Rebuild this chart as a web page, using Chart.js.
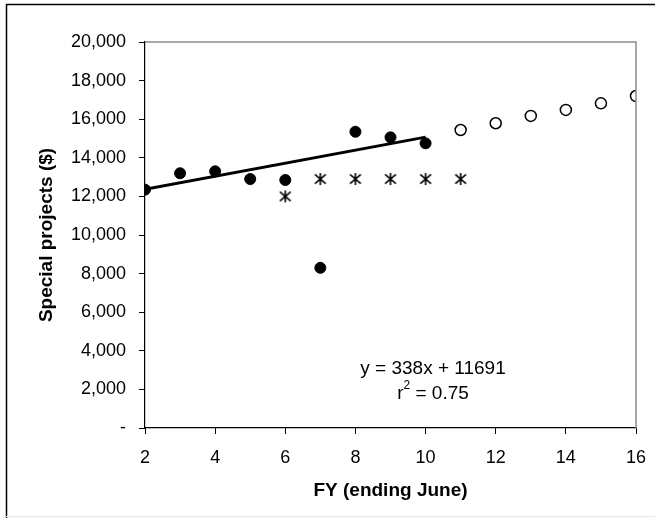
<!DOCTYPE html>
<html>
<head>
<meta charset="utf-8">
<script src="https://cdn.jsdelivr.net/npm/chart.js@4.4.1/dist/chart.umd.min.js"></script>
<style>
html,body{margin:0;padding:0;background:#fff;}
#wrap{position:relative;width:655px;height:518px;}
</style>
</head>
<body>
<div id="wrap"><canvas id="c" width="655" height="518"></canvas></div>
<script>
// ---- data ----
const actualYears = [2, 3, 4, 5, 6, 7, 8, 9, 10];
const actualValues = [12350, 13200, 13300, 12900, 12850, 8300, 15350, 15060, 14750];
const forecastYears = [11, 12, 13, 14, 15, 16];
const forecastValues = [15440, 15790, 16170, 16480, 16820, 17200];
const budgetYears = [6, 7, 8, 9, 10, 11];
const budgetValues = [12000, 12900, 12900, 12900, 12900, 12900];
const trendSlope = 338;
const trendIntercept = 11691;
const trendRange = [2, 10];
const trendLabel = ['y = 338x + 11691', 'r', '2', ' = 0.75'];
const xTitle = 'FY (ending June)';
const yTitle = 'Special projects ($)';

const FONT = "'Liberation Sans', Arial, sans-serif";

// asterisk marker (X plus vertical stroke)
function makeAsterisk(size) {
  const c = document.createElement('canvas');
  c.width = size + 2; c.height = size + 2;
  const g = c.getContext('2d');
  g.strokeStyle = '#000'; g.lineWidth = 1.6;
  const m = (size + 2) / 2, r = size / 2;
  g.beginPath();
  g.moveTo(m, m - r); g.lineTo(m, m + r);
  g.moveTo(m - r * 0.9, m - r * 0.78); g.lineTo(m + r * 0.9, m + r * 0.78);
  g.moveTo(m - r * 0.9, m + r * 0.78); g.lineTo(m + r * 0.9, m - r * 0.78);
  g.stroke();
  return c;
}

const toPts = (xs, ys) => xs.map((x, i) => ({x: x, y: ys[i]}));
const trendPts = trendRange.map(x => ({x: x, y: trendSlope * x + trendIntercept}));

const framePlugin = {
  id: 'frame',
  beforeDraw(chart) {
    const g = chart.ctx;
    g.save();
    g.fillStyle = '#fff';
    g.fillRect(0, 0, chart.width, chart.height);
    g.strokeStyle = '#000'; g.lineWidth = 1.5;
    g.beginPath();
    g.moveTo(6.5, 520); g.lineTo(6.5, 4.5); g.lineTo(660, 4.5);
    g.stroke();
    g.strokeStyle = '#e6e6e6'; g.lineWidth = 1;
    g.beginPath(); g.moveTo(6, 516.5); g.lineTo(660, 516.5); g.stroke();
    g.restore();
  },
  afterDatasetsDraw(chart) {
    const g = chart.ctx, a = chart.chartArea;
    g.save();
    g.strokeStyle = '#8c8c8c'; g.lineWidth = 1.5;
    g.beginPath();
    g.moveTo(a.left, a.top); g.lineTo(a.right, a.top); g.lineTo(a.right, a.bottom);
    g.stroke();
    // trendline equation
    g.fillStyle = '#000';
    g.textBaseline = 'middle';
    g.textAlign = 'center';
    g.font = '19px ' + FONT;
    const cx = 433;
    g.fillText(trendLabel[0], cx, 369);
    const w1 = g.measureText(trendLabel[1]).width;
    const w3 = g.measureText(trendLabel[3]).width;
    g.font = '12px ' + FONT;
    const w2 = g.measureText(trendLabel[2]).width;
    const total = w1 + w2 + w3;
    let x0 = cx - total / 2;
    g.textAlign = 'left';
    g.font = '19px ' + FONT;
    g.fillText(trendLabel[1], x0, 394);
    g.font = '12px ' + FONT;
    g.fillText(trendLabel[2], x0 + w1, 386);
    g.font = '19px ' + FONT;
    g.fillText(trendLabel[3], x0 + w1 + w2, 394);
    g.restore();
  }
};

const PAD_L = 0, PAD_B = 16;

new Chart(document.getElementById('c'), {
  type: 'scatter',
  data: {
    datasets: [
      {
        label: 'Trend', type: 'line', data: trendPts,
        borderColor: '#000', borderWidth: 3, pointRadius: 0, fill: false, order: 3
      },
      {
        label: 'Actual', data: toPts(actualYears, actualValues),
        pointStyle: 'circle', pointRadius: 5.5, backgroundColor: '#000', borderColor: '#000', borderWidth: 1, order: 1
      },
      {
        label: 'Forecast', data: toPts(forecastYears, forecastValues),
        pointStyle: 'circle', pointRadius: 5.5, backgroundColor: '#fff', borderColor: '#000', borderWidth: 1.5, order: 1
      },
      {
        label: 'Budget', data: toPts(budgetYears, budgetValues),
        pointStyle: makeAsterisk(12), pointRadius: 6, order: 1
      }
    ]
  },
  options: {
    responsive: false,
    animation: false,
    events: [],
    layout: { padding: { left: PAD_L, right: 19, top: 42, bottom: PAD_B } },
    plugins: { legend: { display: false }, tooltip: { enabled: false } },
    scales: {
      x: {
        type: 'linear', min: 2, max: 16,
        ticks: { stepSize: 2, color: '#000', font: { family: FONT, size: 18 }, padding: 13, maxRotation: 0 },
        grid: { drawOnChartArea: false, drawTicks: true, tickLength: 6, color: '#000', lineWidth: 1 },
        border: { color: '#000', width: 1.2 },
        title: { display: true, text: xTitle, color: '#000', font: { family: FONT, size: 19, weight: 'bold' }, padding: { top: 0, bottom: 0 } },
        afterFit(s) { s.height = 518 - 428 - PAD_B; s.paddingLeft = 0; s.paddingRight = 0; }
      },
      y: {
        min: 0, max: 20000,
        ticks: {
          stepSize: 2000, color: '#000', font: { family: FONT, size: 18 }, padding: 13,
          callback: v => v === 0 ? '-' : v.toLocaleString('en-US')
        },
        grid: { drawOnChartArea: false, drawTicks: true, tickLength: 6, color: '#000', lineWidth: 1 },
        border: { color: '#000', width: 1.2 },
        title: { display: true, text: yTitle, color: '#000', font: { family: FONT, size: 19, weight: 'bold' }, padding: { top: 35, bottom: 0 } },
        afterFit(s) { s.width = 145 - PAD_L; s.paddingTop = 0; s.paddingBottom = 0; }
      }
    }
  },
  plugins: [framePlugin]
});
</script>
</body>
</html>
